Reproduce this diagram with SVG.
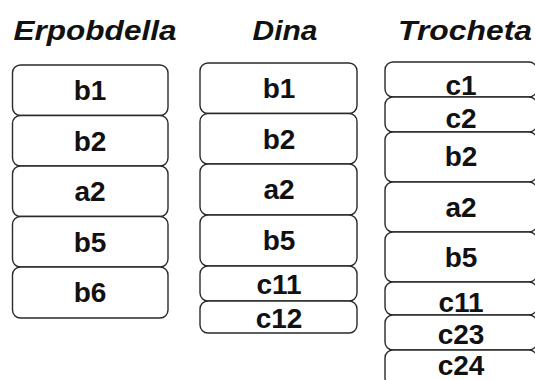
<svg xmlns="http://www.w3.org/2000/svg" width="535" height="380" viewBox="0 0 535 380">
  <style>
    .box { fill: #ffffff; stroke: #2a2a2a; stroke-width: 1.4; }
    .head { font-family: "Liberation Sans", Arial, sans-serif; font-weight: bold; font-style: italic; font-size: 27px; fill: #111; text-anchor: middle; }
    .lbl { font-family: "Liberation Sans", Arial, sans-serif; font-weight: bold; font-size: 28px; fill: #111; text-anchor: middle; }
  </style>
  <rect width="535" height="380" fill="#ffffff"/>

  <!-- column headings -->
  <g id="headings">
    <text class="head" x="95" y="40" textLength="163" lengthAdjust="spacingAndGlyphs">Erpobdella</text>
    <text class="head" x="285" y="40" textLength="65" lengthAdjust="spacingAndGlyphs">Dina</text>
    <text class="head" x="465" y="40" textLength="134" lengthAdjust="spacingAndGlyphs">Trocheta</text>
  </g>

  <!-- Erpobdella column -->
  <g id="erpobdella">
    <g id="e-b1"><rect class="box" x="12.5" y="65" width="155.5" height="50.5" rx="8"/><text class="lbl" x="90" y="100">b1</text></g>
    <g id="e-b2"><rect class="box" x="12.5" y="115.5" width="155.5" height="50.5" rx="8"/><text class="lbl" x="90" y="150.5">b2</text></g>
    <g id="e-a2"><rect class="box" x="12.5" y="166" width="155.5" height="50.5" rx="8"/><text class="lbl" x="90" y="201">a2</text></g>
    <g id="e-b5"><rect class="box" x="12.5" y="216.5" width="155.5" height="50.5" rx="8"/><text class="lbl" x="90" y="251.5">b5</text></g>
    <g id="e-b6"><rect class="box" x="12.5" y="267" width="155.5" height="51" rx="8"/><text class="lbl" x="90" y="302">b6</text></g>
  </g>

  <!-- Dina column -->
  <g id="dina">
    <g id="d-b1"><rect class="box" x="200" y="63" width="157" height="50.5" rx="8"/><text class="lbl" x="279" y="98">b1</text></g>
    <g id="d-b2"><rect class="box" x="200" y="113.5" width="157" height="50.5" rx="8"/><text class="lbl" x="279" y="148.5">b2</text></g>
    <g id="d-a2"><rect class="box" x="200" y="164" width="157" height="51" rx="8"/><text class="lbl" x="279" y="199">a2</text></g>
    <g id="d-b5"><rect class="box" x="200" y="215" width="157" height="51" rx="8"/><text class="lbl" x="279" y="250">b5</text></g>
    <g id="d-c11"><rect class="box" x="200" y="266" width="157" height="35" rx="8"/><text class="lbl" x="279" y="294">c11</text></g>
    <g id="d-c12"><rect class="box" x="200" y="301" width="157" height="32" rx="8"/><text class="lbl" x="279" y="328">c12</text></g>
  </g>

  <!-- Trocheta column -->
  <g id="trocheta">
    <g id="t-c1"><rect class="box" x="385" y="62" width="152" height="35" rx="8"/><text class="lbl" x="461" y="95">c1</text></g>
    <g id="t-c2"><rect class="box" x="385" y="97" width="152" height="35" rx="8"/><text class="lbl" x="461" y="128">c2</text></g>
    <g id="t-b2"><rect class="box" x="385" y="132" width="152" height="50" rx="8"/><text class="lbl" x="461" y="166">b2</text></g>
    <g id="t-a2"><rect class="box" x="385" y="182" width="152" height="50" rx="8"/><text class="lbl" x="461" y="217">a2</text></g>
    <g id="t-b5"><rect class="box" x="385" y="232" width="152" height="50" rx="8"/><text class="lbl" x="461" y="267">b5</text></g>
    <g id="t-c11"><rect class="box" x="385" y="282" width="152" height="33" rx="8"/><text class="lbl" x="461" y="312">c11</text></g>
    <g id="t-c23"><rect class="box" x="385" y="315" width="152" height="35" rx="8"/><text class="lbl" x="461" y="344">c23</text></g>
    <g id="t-c24"><rect class="box" x="385" y="350" width="152" height="36" rx="8"/><text class="lbl" x="461" y="375">c24</text></g>
  </g>
</svg>
